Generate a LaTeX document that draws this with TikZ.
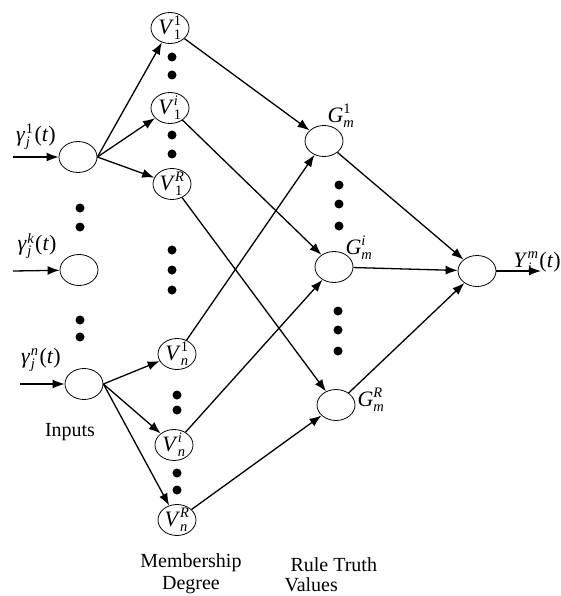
\documentclass[tikz,border=0pt]{standalone}
\usepackage{fontspec}
\setmainfont{Liberation Serif}
\usetikzlibrary{arrows.meta,shapes.geometric}
\newcommand\nlab[3]{$\mbox{\fontsize{22}{24}\selectfont\itshape #1\/}_{\mbox{\fontsize{14.5}{15}\selectfont #2}}^{\mbox{\fontsize{14.5}{15}\selectfont #3}}$}
\begin{document}
\begin{tikzpicture}[x=1pt,y=-1pt,font=\fontsize{20}{24}\selectfont,
  nd/.style={draw,ellipse,minimum width=38pt,minimum height=31pt,inner sep=0pt,line width=0.8pt},
  arr/.style={-{Latex[length=12pt,width=9pt]},line width=1.3pt},
  dot/.style={circle,fill,inner sep=0pt,minimum size=9pt},
  mlab/.style={font=\fontsize{22}{24}\selectfont}]
\useasboundingbox (0,0) rectangle (561,596);
% input nodes
\node[nd] (I1) at (78,157) {};
\node[nd] (I2) at (79,270) {};
\node[nd] (I3) at (84,384) {};
\coordinate (s1) at (13,157);
\coordinate (s2) at (13,271);
\coordinate (s3) at (20,384);
\node[mlab] (g1) at (36,137) {\nlab{\char"03B3\kern1pt}{\itshape j}{1}\kern1pt(\textit{t})};
\node[mlab] (g2) at (37,246) {\nlab{\char"03B3\kern1pt}{\itshape j}{\itshape k}\kern1pt(\textit{t})};
\node[mlab] (g3) at (41,360) {\nlab{\char"03B3\kern1pt}{\itshape j}{\itshape n}\kern1pt(\textit{t})};
% membership nodes
\node[nd,label={center:\nlab{V}{1}{1}}] (V11) at (170,28) {};
\node[nd,label={center:\nlab{V}{1}{\itshape i}}] (V1i) at (170,108) {};
\node[nd,label={center:\nlab{V}{1}{\itshape R}}] (V1R) at (172,184) {};
\node[nd,label={center:\nlab{V}{\itshape n}{1}}] (Vn1) at (177,354) {};
\node[nd,label={center:\nlab{V}{\itshape n}{\itshape i}}] (Vni) at (174,445) {};
\node[nd,label={center:\nlab{V}{\itshape n}{\itshape R}}] (VnR) at (177,520) {};
% rule nodes
\node[nd] (G1) at (324,141) {};
\node[nd] (Gi) at (334,267) {};
\node[nd] (GR) at (336,405) {};
\node (lG1) at (341,116) {\nlab{G}{\itshape m}{1}};
\node (lGi) at (359,248) {\nlab{G}{\itshape m}{\itshape i}};
\node (lGR) at (371,400) {\nlab{G}{\itshape m}{\itshape R}};
% output
\node[nd] (O) at (477,271) {};
\coordinate (e) at (541,271);
\node[mlab] (lY) at (537,262) {\nlab{Y}{\itshape i}{\itshape m}\kern1pt(\textit{t})};
% dots
\foreach \n/\x/\y in {a/80/208,b/80/227,c/80/320,d/80/337,
  e/172/57,f/172/75,g/172/135,h/172/154,i/172/250,j/172/270,k/172/290,
  l/177/395,m/177/410,n/177/473,o/177/490,
  p/339/185,q/339/204,r/339/226,s/338/311,t/338/330,u/338/351}
  \node[dot] (dt\n) at (\x,\y) {};
% connectors
\draw[arr] (s1) -- (I1);
\draw[arr] (s2) -- (I2);
\draw[arr] (s3) -- (I3);
\draw[arr] (I1.east) -- (V11);
\draw[arr] (I1.east) -- (V1i);
\draw[arr] (I1.east) -- (V1R);
\draw[arr] (I3.east) -- (Vn1);
\draw[arr] (I3.east) -- (Vni);
\draw[arr] (I3.east) -- (VnR);
\draw[arr] (V11) -- (G1);
\draw[arr] (V1i) -- (Gi);
\draw[arr] (V1R) -- (GR);
\draw[arr] (Vn1) -- (G1);
\draw[arr] (Vni) -- (Gi);
\draw[arr] (VnR) -- (GR);
\draw[arr] (G1) -- (O);
\draw[arr] (Gi) -- (O);
\draw[arr] (GR) -- (O);
\draw[arr] (O) -- (e);
% captions
\node[anchor=base] (cap1) at (70,436) {Inputs};
\node[anchor=base] (cap2) at (191,567) {Membership};
\node[anchor=base] (cap3) at (191,589) {Degree};
\node[anchor=base west] (cap4) at (287,571) {Rule Truth};
\node[anchor=base west] (cap5) at (281,591) {Values};
\end{tikzpicture}
\end{document}
